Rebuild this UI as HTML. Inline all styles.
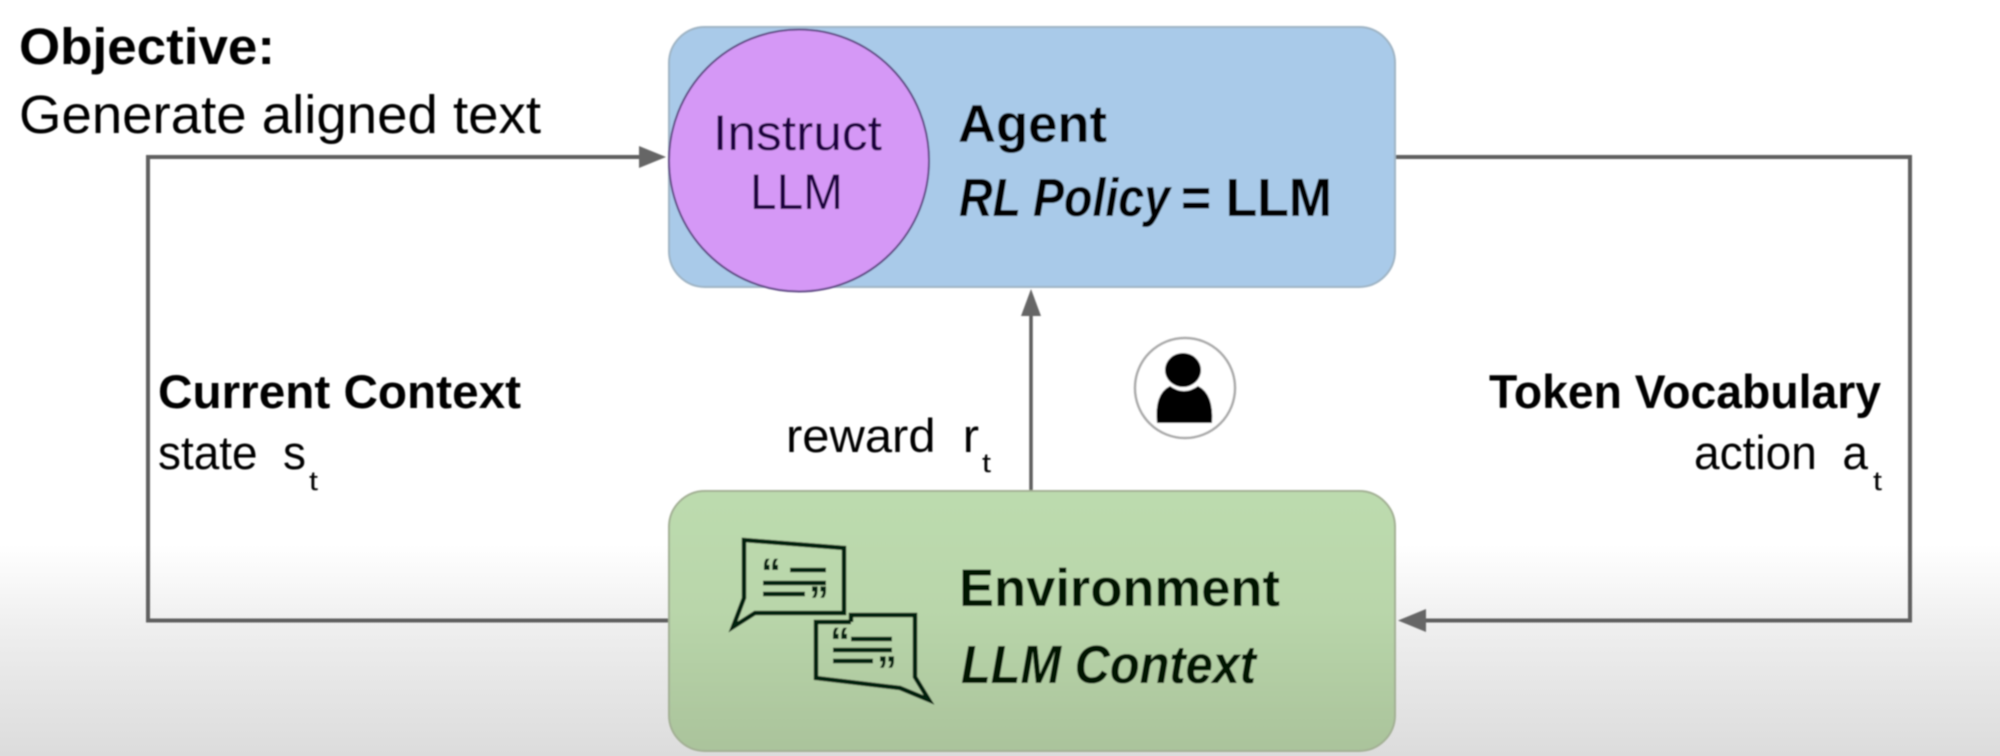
<!DOCTYPE html>
<html><head><meta charset="utf-8"><style>
html,body{margin:0;padding:0;width:2000px;height:756px;overflow:hidden;background:#fff}
svg{display:block}
text{font-family:"Liberation Sans",sans-serif;fill:#050505}
</style></head><body>
<svg width="2000" height="756" viewBox="0 0 2000 756" xmlns="http://www.w3.org/2000/svg">
<defs>
<linearGradient id="bg" x1="0" y1="0" x2="0" y2="1"><stop offset="0" stop-color="#fff"/><stop offset="0.72" stop-color="#fff"/><stop offset="0.85" stop-color="#ececec"/><stop offset="1" stop-color="#dcdcdc"/></linearGradient>
<linearGradient id="gr" x1="0" y1="0" x2="0" y2="1"><stop offset="0" stop-color="#bcdbae"/><stop offset="0.45" stop-color="#b9d6aa"/><stop offset="1" stop-color="#aac39b"/></linearGradient>
<filter id="b" x="-5%" y="-5%" width="110%" height="110%"><feGaussianBlur stdDeviation="0.8"/></filter>
</defs>
<rect width="2000" height="756" fill="url(#bg)"/>
<g filter="url(#b)">
<!-- connectors -->
<path d="M669 620.5H148V157H640" fill="none" stroke="#5f5f5f" stroke-width="4"/>
<path d="M1395 157H1910V620.5H1420" fill="none" stroke="#5f5f5f" stroke-width="4"/>
<path d="M1031 491V310" fill="none" stroke="#5f5f5f" stroke-width="3.5"/>
<polygon points="666,157 639,146 639,168" fill="#666"/>
<polygon points="1398,620.5 1426,609 1426,632" fill="#666"/>
<polygon points="1031,289 1021,316 1041,316" fill="#666"/>
<!-- agent -->
<rect x="669" y="27" width="726" height="260" rx="36" fill="#a9cae9" stroke="#9fb4c4" stroke-width="2"/>
<ellipse cx="799" cy="160.5" rx="130" ry="131" fill="#d598f6" stroke="#5f4a85" stroke-width="2"/>
<!-- environment -->
<rect x="669" y="491" width="726" height="260" rx="36" fill="url(#gr)" stroke="#a3b094" stroke-width="2"/>
<!-- bubbles -->
<g fill="none" stroke="#062008" stroke-width="4.5">
<path d="M744 540L844 548V613H755L733 627L744 598Z"/>
<path d="M851 622V615H915V677L929 700L900 688L816 678V622H851"/>
</g>
<g stroke="#062008" stroke-width="4.5">
<path d="M790 570H826M763 583H826M763 594H805M851 639H892M833 650H892M833 661H873"/>
</g>
<g font-weight="bold">
<text x="761" y="586" font-size="40" style="fill:#062008">“</text>
<text x="809" y="614" font-size="40" style="fill:#062008">”</text>
<text x="830" y="655" font-size="40" style="fill:#062008">“</text>
<text x="877" y="684" font-size="40" style="fill:#062008">”</text>
</g>
<!-- person -->
<circle cx="1185" cy="388" r="50" fill="#fff" stroke="#aaa" stroke-width="2.5"/>
<ellipse cx="1183" cy="370" rx="18" ry="17" fill="#000"/>
<path d="M1157 423Q1154 394 1170 386Q1184 396 1198 386Q1214 394 1212 423Z" fill="#000"/>
<!-- text -->
<text x="19" y="64" font-size="51" font-weight="bold" textLength="256" lengthAdjust="spacingAndGlyphs">Objective:</text>
<text x="19" y="133" font-size="54" textLength="522" lengthAdjust="spacingAndGlyphs">Generate aligned text</text>
<text x="713" y="150" font-size="50" textLength="169" lengthAdjust="spacingAndGlyphs" style="fill:#1f0640">Instruct</text>
<text x="750" y="209" font-size="50" textLength="93" lengthAdjust="spacingAndGlyphs" style="fill:#1f0640">LLM</text>
<text x="958" y="142" font-size="53" font-weight="bold" textLength="149" lengthAdjust="spacingAndGlyphs">Agent</text>
<text x="959" y="216" font-size="54" font-weight="bold" font-style="italic" textLength="211" lengthAdjust="spacingAndGlyphs">RL Policy</text>
<text x="1181" y="216" font-size="54" font-weight="bold" textLength="151" lengthAdjust="spacingAndGlyphs">= LLM</text>
<text x="158" y="408" font-size="47" font-weight="bold" textLength="363" lengthAdjust="spacingAndGlyphs">Current Context</text>
<text x="158" y="469" font-size="47" textLength="148" lengthAdjust="spacingAndGlyphs">state&#160;&#160;s</text>
<text x="309" y="490" font-size="27" textLength="9" lengthAdjust="spacingAndGlyphs">t</text>
<text x="786" y="452" font-size="47" textLength="193" lengthAdjust="spacingAndGlyphs">reward&#160;&#160;r</text>
<text x="982" y="472" font-size="27" textLength="9" lengthAdjust="spacingAndGlyphs">t</text>
<text x="1489" y="408" font-size="47" font-weight="bold" textLength="392" lengthAdjust="spacingAndGlyphs">Token Vocabulary</text>
<text x="1694" y="469" font-size="47" textLength="174" lengthAdjust="spacingAndGlyphs">action&#160;&#160;a</text>
<text x="1873" y="490" font-size="27" textLength="9" lengthAdjust="spacingAndGlyphs">t</text>
<text x="959" y="606" font-size="53" font-weight="bold" textLength="321" lengthAdjust="spacingAndGlyphs" style="fill:#021505">Environment</text>
<text x="961" y="683" font-size="54" font-weight="bold" font-style="italic" textLength="295" lengthAdjust="spacingAndGlyphs" style="fill:#021505">LLM Context</text>
</g>
</svg>
</body></html>
